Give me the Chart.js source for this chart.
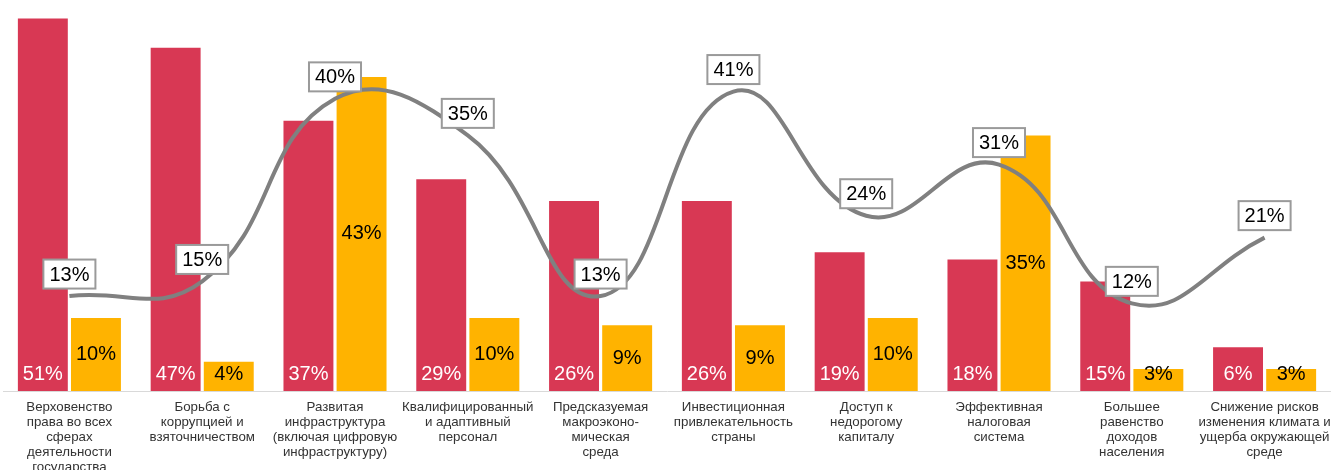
<!DOCTYPE html>
<html lang="ru">
<head>
<meta charset="utf-8">
<title>Факторы</title>
<script src="https://cdn.jsdelivr.net/npm/chart.js@4.4.1/dist/chart.umd.min.js"></script>
<style>
    html, body { margin: 0; padding: 0; background: #fff; overflow: hidden; }
    #wrap { position: relative; width: 1331px; height: 470px; }
</style>
</head>
<body>
<div id="wrap"><canvas id="grafico"></canvas></div>
<script>
// Категории (подписи оси X, по строкам)
const categorias = [
    ['Верховенство', 'права во всех', 'сферах', 'деятельности', 'государства'],
    ['Борьба с', 'коррупцией и', 'взяточничеством'],
    ['Развитая', 'инфраструктура', '(включая цифровую', 'инфраструктуру)'],
    ['Квалифицированный', 'и адаптивный', 'персонал'],
    ['Предсказуемая', 'макроэконо-', 'мическая', 'среда'],
    ['Инвестиционная', 'привлекательность', 'страны'],
    ['Доступ к', 'недорогому', 'капиталу'],
    ['Эффективная', 'налоговая', 'система'],
    ['Большее', 'равенство', 'доходов', 'населения'],
    ['Снижение рисков', 'изменения климата и', 'ущерба окружающей', 'среде']
];

// Значения серий, %
const serieRoja = [51, 47, 37, 29, 26, 26, 19, 18, 15, 6];
const serieAmarilla = [10, 4, 43, 10, 9, 9, 10, 35, 3, 3];
const serieLinea = [13, 15, 40, 35, 13, 41, 24, 31, 12, 21];

const FUENTE = '"Liberation Sans", Arial, sans-serif';

// --- Подписи значений: на столбцах и в рамках над линией ---
const etiquetasPlugin = {
    id: 'etiquetas',
    afterDatasetsDraw(chart) {
        const ctx = chart.ctx;
        ctx.save();
        ctx.font = '20px ' + FUENTE;
        ctx.textAlign = 'center';
        ctx.textBaseline = 'middle';

        // красные столбцы: белый текст у основания
        chart.getDatasetMeta(0).data.forEach((bar, i) => {
            ctx.fillStyle = '#ffffff';
            ctx.fillText(serieRoja[i] + '%', bar.x, bar.base - 17);
        });

        // жёлтые столбцы: чёрный текст по центру (не ниже основания)
        chart.getDatasetMeta(1).data.forEach((bar, i) => {
            const y = Math.min((bar.y + bar.base) / 2, bar.base - 17);
            ctx.fillStyle = '#000000';
            ctx.fillText(serieAmarilla[i] + '%', bar.x, y);
        });

        // линия: текст в белой рамке над точкой
        chart.getDatasetMeta(2).data.forEach((pt, i) => {
            const texto = serieLinea[i] + '%';
            const w = ctx.measureText(texto).width + 12;
            const h = 29;
            const cy = pt.y - 22;
            ctx.fillStyle = '#ffffff';
            ctx.fillRect(pt.x - w / 2, cy - h / 2, w, h);
            ctx.strokeStyle = '#9a9a9a';
            ctx.lineWidth = 2;
            ctx.strokeRect(pt.x - w / 2, cy - h / 2, w, h);
            ctx.fillStyle = '#000000';
            ctx.fillText(texto, pt.x, cy + 1);
        });
        ctx.restore();
    }
};

const ctx = document.getElementById('grafico').getContext('2d');
new Chart(ctx, {
    type: 'bar',
    data: {
        labels: categorias,
        datasets: [
            {
                label: 'Серия 1',
                data: serieRoja,
                backgroundColor: '#D83854',
                categoryPercentage: 0.8,
                barPercentage: 0.94,
                order: 2
            },
            {
                label: 'Серия 2',
                data: serieAmarilla,
                backgroundColor: '#FFB300',
                categoryPercentage: 0.8,
                barPercentage: 0.94,
                order: 2
            },
            {
                type: 'line',
                label: 'Серия 3',
                data: serieLinea,
                borderColor: '#808080',
                borderWidth: 4,
                pointRadius: 0,
                tension: 0.45,
                fill: false,
                order: 1
            }
        ]
    },
    options: {
        responsive: true,
        maintainAspectRatio: false,
        animation: false,
        events: [],
        layout: { padding: { top: 1, left: 3, right: 0, bottom: 0 } },
        plugins: {
            legend: { display: false },
            tooltip: { enabled: false }
        },
        scales: {
            x: {
                grid: { display: false, drawTicks: false },
                border: { display: true, color: '#d9d9d9', width: 1 },
                ticks: {
                    autoSkip: false,
                    maxRotation: 0,
                    minRotation: 0,
                    padding: 9,
                    color: '#333333',
                    font: { family: FUENTE, size: 13.3, lineHeight: 1.13 }
                },
                afterFit(scale) {
                    // фиксированная высота оси; крайние подписи могут выходить за край
                    scale.height = 79;
                    scale.paddingLeft = 0;
                    scale.paddingRight = 0;
                }
            },
            y: {
                display: false,
                min: 0,
                max: 53.4
            }
        }
    },
    plugins: [etiquetasPlugin]
});
</script>
</body>
</html>
